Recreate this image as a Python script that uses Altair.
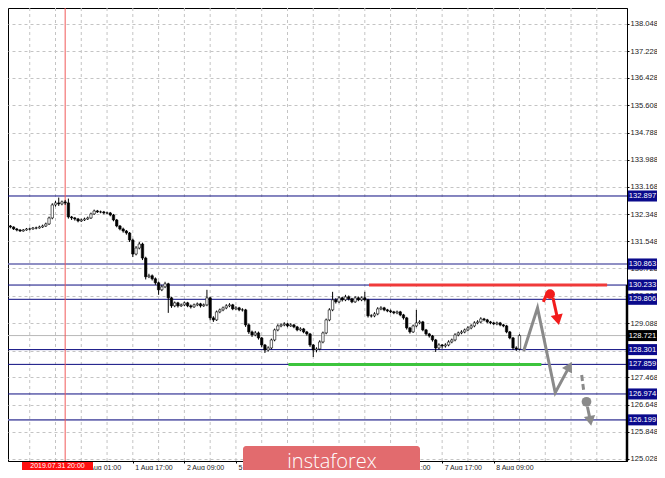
import altair as alt
import pandas as pd

# ---------------- data (USD/JPY H1, 30 Jul 2019 - 8 Aug 2019) ----------------
first_hour = -7          # hours counted from 31 Jul 09:00
first_open = 131.97
close = [132.00, 131.97, 131.91, 131.88, 131.85, 131.88, 131.91, 131.91, 131.94, 131.94, 131.97, 132.00, 132.06,
         132.24, 132.63, 132.69, 132.66, 132.72, 132.69, 132.27,
         132.24, 132.21, 132.15, 132.18, 132.21, 132.24, 132.36, 132.45, 132.42, 132.42, 132.39, 132.39, 132.33,
         132.18, 132.00, 131.91, 131.85, 131.79, 131.58, 131.16, 131.34, 131.46, 131.04, 130.48, 130.51, 130.42, 130.30, 130.09, 130.18, 130.27,
         129.85, 129.61, 129.70, 129.61, 129.64, 129.70, 129.61, 129.58, 129.64, 129.67, 129.61, 129.64,
         129.85, 129.25, 129.19, 129.43, 129.49, 129.55, 129.61, 129.64, 129.52, 129.55, 129.49, 129.49,
         129.04, 128.83, 128.74, 128.80, 128.65, 128.44, 128.29, 128.35, 128.59, 128.89, 129.01, 129.04, 129.07, 129.01, 129.04, 128.98, 128.89, 128.92, 128.83, 128.77, 128.44, 128.29, 128.32, 128.53, 128.80,
         129.19, 129.49, 129.79, 129.73, 129.85, 129.79, 129.88, 129.82, 129.73, 129.85, 129.79, 129.85, 129.79,
         129.31, 129.31, 129.37, 129.52, 129.55, 129.49, 129.46, 129.43, 129.40, 129.43, 129.34, 129.25,
         128.95, 128.83, 129.01, 129.10, 129.13, 128.89, 128.77, 128.71, 128.59, 128.35, 128.44, 128.41, 128.44, 128.53, 128.59,
         128.74, 128.80, 128.83, 128.89, 128.95, 129.01, 129.10, 129.13, 129.22, 129.19, 129.13, 129.10, 129.07, 129.10, 129.04, 129.01, 128.83, 128.65, 128.35, 128.32, 128.72]
high = [132.04, 132.03, 131.99, 131.94, 131.91, 131.91, 131.94, 131.95, 131.97, 131.98, 132.01, 132.04, 132.10,
        132.28, 132.68, 132.75, 132.85, 132.76, 132.78, 132.82,
        132.30, 132.27, 132.24, 132.22, 132.25, 132.28, 132.40, 132.49, 132.48, 132.46, 132.45, 132.43, 132.42,
        132.36, 132.21, 132.03, 131.95, 131.88, 131.82, 131.62, 131.40, 131.52, 131.50, 131.08, 130.57, 130.55, 130.46, 130.34, 130.24, 130.33,
        130.30, 129.88, 129.74, 129.73, 129.68, 129.74, 129.73, 129.65, 129.68, 129.71, 129.70, 129.68,
        130.09, 129.88, 129.30, 129.47, 129.53, 129.59, 129.66, 129.69, 129.67, 129.60, 129.58, 129.54,
        129.52, 129.08, 128.87, 128.86, 128.84, 128.68, 128.47, 128.40, 128.63, 128.93, 129.06, 129.09, 129.12, 129.10, 129.09, 129.07, 129.01, 128.97, 128.95, 128.86, 128.80, 128.47, 128.37, 128.58, 128.84,
        129.23, 129.54, 130.03, 129.84, 129.90, 129.88, 129.94, 129.92, 129.85, 129.90, 129.89, 129.89, 130.03,
        129.82, 129.36, 129.42, 129.57, 129.60, 129.58, 129.52, 129.50, 129.46, 129.47, 129.46, 129.37,
        129.28, 128.98, 129.05, 129.49, 129.18, 129.16, 128.92, 128.80, 128.74, 128.62, 128.49, 128.47, 128.49, 128.58, 128.63,
        128.79, 128.84, 128.88, 128.93, 129.00, 129.06, 129.15, 129.18, 129.27, 129.25, 129.22, 129.16, 129.13, 129.14, 129.13, 129.07, 129.04, 128.86, 128.68, 128.40, 128.76]
low = [131.94, 131.93, 131.88, 131.84, 131.82, 131.83, 131.86, 131.87, 131.89, 131.90, 131.92, 131.94, 131.97,
       132.03, 132.20, 132.58, 132.60, 132.62, 132.63, 132.22,
       132.18, 132.16, 132.11, 132.12, 132.15, 132.18, 132.21, 132.33, 132.39, 132.38, 132.35, 132.35, 132.29,
       132.14, 131.96, 131.87, 131.80, 131.74, 131.52, 131.07, 131.12, 131.30, 130.98, 130.40, 130.44, 130.37, 130.24, 129.94, 130.05, 130.14,
       129.40, 129.55, 129.57, 129.56, 129.58, 129.60, 129.57, 129.53, 129.55, 129.60, 129.56, 129.58,
       129.60, 129.18, 129.13, 129.16, 129.39, 129.45, 129.51, 129.57, 129.48, 129.49, 129.45, 129.44,
       128.98, 128.77, 128.68, 128.70, 128.60, 128.37, 128.20, 128.24, 128.31, 128.55, 128.85, 128.97, 129.00, 128.97, 128.98, 128.94, 128.85, 128.85, 128.79, 128.72, 128.38, 128.08, 128.22, 128.28, 128.49,
       128.76, 129.15, 129.45, 129.68, 129.69, 129.74, 129.75, 129.77, 129.69, 129.70, 129.75, 129.75, 129.74,
       129.26, 129.26, 129.27, 129.33, 129.48, 129.45, 129.42, 129.39, 129.36, 129.36, 129.30, 129.20,
       128.90, 128.78, 128.80, 128.97, 129.06, 128.85, 128.72, 128.66, 128.54, 128.23, 128.30, 128.33, 128.36, 128.40, 128.49,
       128.55, 128.70, 128.76, 128.79, 128.85, 128.91, 128.97, 129.06, 129.09, 129.15, 129.09, 129.06, 129.03, 129.03, 129.00, 128.97, 128.79, 128.61, 128.29, 128.26, 128.28]

y_ticks = [138.048, 137.228, 136.428, 135.608, 134.788, 133.988, 133.168, 132.348, 131.548,
           130.728, 129.908, 129.088, 128.268, 127.468, 126.648, 125.848, 125.028]
x_tick_hours = [0, 16, 32, 48, 64, 80, 96, 112, 128, 144]
x_tick_labels = ["31 Jul 09:00", "1 Aug 01:00", "1 Aug 17:00", "2 Aug 09:00", "5 Aug 01:00",
                 "5 Aug 17:00", "6 Aug 09:00", "7 Aug 01:00", "7 Aug 17:00", "8 Aug 09:00"]
grid_hours = [-8, 0, 8, 16, 24, 32, 40, 48, 56, 64, 72, 80, 88, 96, 104, 112, 120, 128,
              136, 144, 152, 160, 168, 176]

strong_levels = [132.897, 130.233, 129.806, 128.301, 127.859, 126.974]
soft_levels = [130.863, 126.199]
current_price = 128.721
cursor_hour = 11
cursor_text = "2019.07.31 20:00"

resistance_price, resistance_from, resistance_to = 130.233, 105.3, 179.2
support_price, support_from, support_to = 127.859, 80.3, 158.8

gray_path_h = [153.3, 157.6, 163.1, 167.5]
gray_path_p = [128.26, 129.55, 127.01, 127.80]
gray_head_up = (167.5, 127.80)
gray_dash_h = [171.3, 171.9]
gray_dash_p = [127.54, 127.10]
gray_dot = (172.8, 126.74)
gray_down_h = [173.1, 174.0]
gray_down_p = [126.59, 126.17]

red_hook_h = [159.4, 160.6]
red_hook_p = [129.73, 129.99]
red_dot = (161.5, 129.96)
red_arrow_h = [162.4, 163.9]
red_arrow_p = [129.85, 129.19]

watermark = "instaforex"

# ---------------- build ----------------
n = min(len(close), len(high), len(low))
opens = [first_open] + close[: n - 1]
candles = pd.DataFrame({
    "h": [first_hour + i for i in range(n)],
    "o": opens, "c": close[:n], "hi": high[:n], "lo": low[:n],
})
candles["dir"] = ["up" if c >= o else "down" for o, c in zip(candles["o"], candles["c"])]

FONT = "Liberation Sans"
XS = alt.Scale(domain=[-5.19, 183.82], nice=False, zero=False)
YS = alt.Scale(domain=[124.968, 138.522], nice=False, zero=False)

labels_js = "[" + ",".join("'" + s + "'" for s in x_tick_labels) + "]"
hours_js = "[" + ",".join(str(v) for v in x_tick_hours) + "]"

X_AXIS = alt.Axis(orient="bottom", values=x_tick_hours, grid=False, title=None,
                  labelExpr=labels_js + "[indexof(" + hours_js + ", datum.value)]",
                  labelAlign="left", labelBaseline="top", labelFontSize=7, labelOffset=2,
                  labelPadding=0, tickSize=2, tickColor="black", domainColor="black",
                  labelColor="#1a1a1a", labelFlush=False, labelOverlap=False, labelFont=FONT)
Y_AXIS = alt.Axis(orient="right", values=y_ticks, format=".3f", grid=True, gridDash=[3, 3],
                  gridColor="#c4c4c4", title=None, labelFontSize=7.6, tickSize=2, labelPadding=1,
                  domainColor="black", tickColor="black", labelColor="#1a1a1a",
                  labelOverlap=False, labelFlush=False, labelFont=FONT)


def X(f):
    return alt.X(f, type="quantitative", scale=XS, axis=X_AXIS)


def Y(f):
    return alt.Y(f, type="quantitative", scale=YS, axis=Y_AXIS)


one = pd.DataFrame({"k": [0]})

vgrid = alt.Chart(pd.DataFrame({"h": grid_hours})).mark_rule(
    color="#c4c4c4", strokeDash=[3, 3], strokeWidth=1, clip=True).encode(x=X("h"))

strong = alt.Chart(pd.DataFrame({"p": strong_levels})).mark_rule(
    color="#0c0c80", strokeWidth=1).encode(y=Y("p"))
soft = alt.Chart(pd.DataFrame({"p": soft_levels})).mark_rule(
    color="#6a6ab0", strokeWidth=1.6).encode(y=Y("p"))
cur = alt.Chart(pd.DataFrame({"p": [current_price]})).mark_rule(
    color="#b8b8b8", strokeWidth=1).encode(y=Y("p"))
cursor = alt.Chart(pd.DataFrame({"h": [cursor_hour]})).mark_rule(
    color="#f05a5a", strokeWidth=1).encode(x=X("h"))

res = alt.Chart(pd.DataFrame({"a": [resistance_from], "b": [resistance_to], "p": [resistance_price]})
                ).mark_rule(color="#f03a3a", strokeWidth=3).encode(x=X("a"), x2="b", y=Y("p"))
sup = alt.Chart(pd.DataFrame({"a": [support_from], "b": [support_to], "p": [support_price]})
                ).mark_rule(color="#3cc43c", strokeWidth=3).encode(x=X("a"), x2="b", y=Y("p"))

wicks = alt.Chart(candles).mark_rule(color="black", strokeWidth=1, clip=True).encode(
    x=X("h"), y=Y("lo"), y2="hi")
bodies = alt.Chart(candles).mark_bar(size=2.4, stroke="black", strokeWidth=0.6, clip=True).encode(
    x=X("h"), y=Y("o"), y2="c",
    color=alt.Color("dir:N", scale=alt.Scale(domain=["up", "down"], range=["white", "black"]), legend=None))

# forecast drawing
GRAY = "#8a8a8a"
RED = "#f21c1c"
gpath = alt.Chart(pd.DataFrame({"h": gray_path_h, "p": gray_path_p})).mark_line(
    color=GRAY, strokeWidth=3).encode(x=X("h"), y=Y("p"))
ghead = alt.Chart(pd.DataFrame({"h": [gray_head_up[0]], "p": [gray_head_up[1]]})).mark_point(
    shape="triangle-up", filled=True, opacity=1, color=GRAY, size=130, angle=29).encode(x=X("h"), y=Y("p"))
gdash = alt.Chart(pd.DataFrame({"h": gray_dash_h, "p": gray_dash_p})).mark_line(
    color=GRAY, strokeWidth=3, strokeDash=[6, 3]).encode(x=X("h"), y=Y("p"))
gdot = alt.Chart(pd.DataFrame({"h": [gray_dot[0]], "p": [gray_dot[1]]})).mark_point(
    shape="circle", filled=True, opacity=1, color=GRAY, size=95).encode(x=X("h"), y=Y("p"))
gdown = alt.Chart(pd.DataFrame({"h": gray_down_h, "p": gray_down_p})).mark_line(
    color=GRAY, strokeWidth=3).encode(x=X("h"), y=Y("p"))
gdown_head = alt.Chart(pd.DataFrame({"h": [gray_down_h[-1]], "p": [gray_down_p[-1]]})).mark_point(
    shape="triangle-up", filled=True, opacity=1, color=GRAY, size=130, angle=170).encode(x=X("h"), y=Y("p"))

rhook = alt.Chart(pd.DataFrame({"h": red_hook_h, "p": red_hook_p})).mark_line(
    color=RED, strokeWidth=3).encode(x=X("h"), y=Y("p"))
rdot = alt.Chart(pd.DataFrame({"h": [red_dot[0]], "p": [red_dot[1]]})).mark_point(
    shape="circle", filled=True, opacity=1, color=RED, size=95).encode(x=X("h"), y=Y("p"))
rarrow = alt.Chart(pd.DataFrame({"h": red_arrow_h, "p": red_arrow_p})).mark_line(
    color=RED, strokeWidth=3).encode(x=X("h"), y=Y("p"))
rhead = alt.Chart(pd.DataFrame({"h": [red_arrow_h[-1]], "p": [red_arrow_p[-1]]})).mark_point(
    shape="triangle-up", filled=True, opacity=1, color=RED, size=150, angle=168).encode(x=X("h"), y=Y("p"))

# price labels on the right
BOX = "M-1,-0.38H1V0.38H-1Z"
BOX_X = 634.5
lvl_all = pd.DataFrame({"p": strong_levels + soft_levels})
lvl_all["t"] = [f"{v:.3f}" for v in lvl_all["p"]]
lvl_box = alt.Chart(lvl_all).mark_point(shape=BOX, filled=True, opacity=1, color="#0a0a8c",
                                         size=841).encode(x=alt.value(BOX_X), y=Y("p"))
lvl_txt = alt.Chart(lvl_all).mark_text(color="white", fontSize=7.6, font=FONT, align="center",
                                       baseline="middle").encode(x=alt.value(BOX_X), y=Y("p"), text="t:N")
cur_df = pd.DataFrame({"p": [current_price], "t": [f"{current_price:.3f}"]})
cur_box = alt.Chart(cur_df).mark_point(shape=BOX, filled=True, opacity=1, color="black",
                                       size=841).encode(x=alt.value(BOX_X), y=Y("p"))
cur_txt = alt.Chart(cur_df).mark_text(color="white", fontSize=7.6, font=FONT, align="center",
                                      baseline="middle").encode(x=alt.value(BOX_X), y=Y("p"), text="t:N")

# thick right border part
rborder = alt.Chart(pd.DataFrame({"a": [resistance_price], "b": [YS.domain[0]]})).mark_rule(
    color="black", strokeWidth=2.5).encode(x=alt.value(619), y=Y("a"), y2="b")

# cursor time label
cur_lab_box = alt.Chart(one).mark_rect(color="#ff1010").encode(
    x=alt.value(14), x2=alt.value(85), y=alt.value(454), y2=alt.value(462))
cur_lab_txt = alt.Chart(pd.DataFrame({"t": [cursor_text]})).mark_text(
    color="white", fontSize=7, font=FONT, align="center", baseline="middle").encode(
    x=alt.value(49.5), y=alt.value(458), text="t:N")

# watermark
wm_box = alt.Chart(one).mark_rect(color="#e26b6e", cornerRadius=3).encode(
    x=alt.value(235), x2=alt.value(412), y=alt.value(438), y2=alt.value(470))
wm_txt = alt.Chart(pd.DataFrame({"t": [watermark]})).mark_text(
    color="white", fontSize=20, font="Open Sans", fontWeight=300, align="center", baseline="middle").encode(
    x=alt.value(324), y=alt.value(454), text="t:N")

chart = alt.layer(
    vgrid, cur, strong, soft, cursor, res, sup, wicks, bodies,
    gpath, ghead, gdash, gdot, gdown, gdown_head, rhook, rdot, rarrow, rhead,
    rborder, lvl_box, lvl_txt, cur_box, cur_txt, cur_lab_box, cur_lab_txt, wm_box, wm_txt
).properties(
    width=619, height=453,
    autosize=alt.AutoSizeParams(type="none"),
    padding={"left": 0, "top": 0, "right": 30, "bottom": 9},
).configure_view(stroke="black", strokeWidth=1)

chart.save("out.html", embed_options={"renderer": "svg", "actions": False})
